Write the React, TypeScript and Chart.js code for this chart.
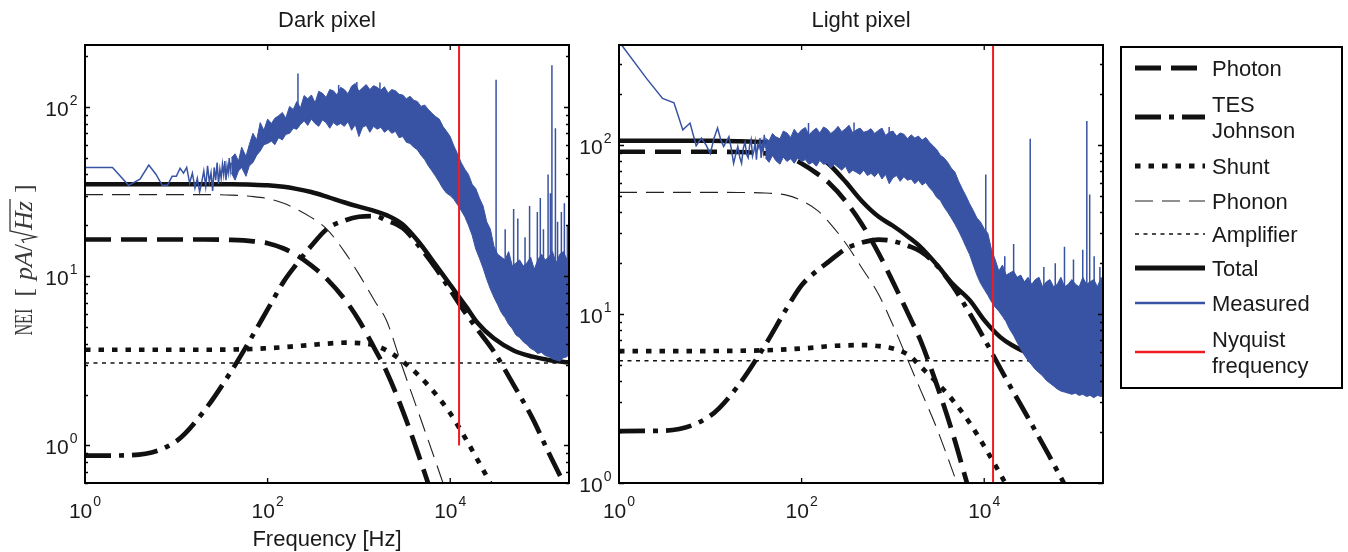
import React, { useEffect, useRef } from 'react';
import { Chart, registerables } from 'chart.js';

Chart.register(...registerables);

// ---------------- axes ----------------
const xMin = 1;
const xMax = 200000;
const xTickValues = [1, 100, 10000];
const xTickExponents = ['0', '2', '4'];
const yTickValues = [1, 10, 100];
const yTickExponents = ['0', '1', '2'];
const darkYRange = [0.6, 233];
const lightYRange = [1, 391];
const nyquistFreq = 12500;

// ---------------- model curves (shared frequency grid) ----------------
const modelFreq = [1, 3, 10, 20, 40, 70, 100, 150, 200, 300, 450, 700, 1000, 1500, 2000, 3000, 4500, 7000, 10000, 15000, 20000, 30000, 50000, 80000, 120000, 200000];

const darkTotal = [35, 35, 35, 35, 35, 34.8, 34.5, 33.8, 33, 31.5, 29.5, 27.3, 25.8, 24.3, 23, 20.3, 16, 11.6, 8.9, 6.6, 5.3, 4.3, 3.63, 3.35, 3.2, 3.1];
const darkPhoton = [16.5, 16.5, 16.5, 16.5, 16.4, 16.1, 15.7, 14.6, 13.5, 11.6, 9.6, 7.3, 5.5, 3.7, 2.75, 1.62, 0.88, 0.42, 0.2, null, null, null, null, null, null, null];
const darkPhonon = [30.4, 30.4, 30.4, 30.4, 30.2, 29.6, 28.8, 27, 25.2, 22.3, 18.9, 13.9, 10.3, 7.1, 5.5, 2.9, 1.56, 0.79, 0.45, null, null, null, null, null, null, null];
const darkJohnson = [0.87, 0.875, 1.06, 1.59, 2.75, 4.55, 6.37, 9.3, 11.5, 15.1, 19.1, 21.4, 22.5, 22.7, 21.4, 19.3, 15.2, 11.1, 8.3, 5.97, 4.83, 3.6, 2.26, 1.44, 0.905, 0.52];
const darkShunt = [3.68, 3.68, 3.68, 3.68, 3.69, 3.72, 3.76, 3.81, 3.86, 3.93, 4.0, 4.05, 4.03, 3.9, 3.65, 3.15, 2.6, 2.0, 1.55, 1.08, 0.82, 0.55, null, null, null, null];

const lightTotal = [106, 106, 106, 105.5, 104, 101, 96, 87, 77, 61, 47, 37.6, 33.3, 28.4, 25, 19.7, 15.1, 12.0, 9.2, 7.3, 6.56, 5.9, 5.55, 5.4, 5.35, 5.32];
const lightPhoton = [91.3, 91.3, 91.3, 91, 89.3, 85.8, 77.8, 67.4, 59.6, 46.9, 34.5, 22.8, 15.5, 9.8, 7.0, 3.86, 1.98, 0.86, null, null, null, null, null, null, null, null];
const lightPhonon = [52.5, 52.5, 52.5, 52.4, 52, 50.4, 46.9, 40.9, 34.9, 26.5, 19.0, 13.0, 8.6, 5.14, 3.57, 2.13, 1.18, 0.6, null, null, null, null, null, null, null, null];
const lightJohnson = [2.03, 2.04, 2.5, 3.74, 6.57, 11, 14.8, 18.2, 20.5, 24.2, 26.4, 27.6, 27.0, 25.2, 23.5, 19.5, 14.7, 10.0, 7.14, 4.77, 3.6, 2.45, 1.49, 0.93, null, null];
const lightShunt = [6.04, 6.04, 6.04, 6.06, 6.1, 6.18, 6.25, 6.36, 6.46, 6.52, 6.55, 6.46, 6.25, 5.7, 4.9, 3.95, 3.1, 2.25, 1.65, 1.13, 0.85, null, null, null, null, null];

const ampFreq = [1, 200000];
const darkAmplifier = [3.07, 3.07];
const lightAmplifier = [5.29, 5.29];

// ---------------- measured spectra ----------------
const lowFreq = [1, 2, 3, 4, 5, 6, 7, 8, 9, 10, 11, 12, 13, 14, 15, 16, 17, 18, 19, 20, 21, 22, 23, 24, 25, 26, 27, 28, 29, 30, 31, 32, 33, 34, 35, 36, 37, 38, 39, 40];
const darkLow = [44, 44, 34.5, 37.5, 45.5, 40, 34.5, 34.5, 39, 39, 43.5, 40.7, 44, 35.5, 40.7, 33.2, 38, 31.5, 36, 42, 34, 45, 36, 41, 32, 44, 37, 47, 35, 43, 38, 46, 40, 48, 37, 45, 41, 50, 42, 47];
const lightLow = [410, 248, 189, 178, 123, 135, 99, 110, 100, 89, 110, 126, 108, 98, 105, 112, 95, 78, 88, 98, 85, 78, 96, 104, 88, 84, 100, 108, 86, 92, 104, 82, 100, 96, 110, 84, 102, 92, 115, 96];

// dense noisy part: upper / lower envelopes on a common frequency list
const bandFreq = [40, 44, 48, 52, 58, 63, 69, 76, 83, 91,
  100, 110, 120, 132, 145, 158, 174, 191, 209, 229,
  251, 275, 302, 331, 363, 398, 437, 479, 525, 575,
  631, 692, 759, 832, 912, 1000, 1096, 1202, 1318, 1445,
  1585, 1738, 1905, 2089, 2291, 2512, 2754, 3020, 3311, 3631,
  3981, 4365, 4786, 5248, 5754, 6310, 6918, 7586, 8318, 9120,
  10000, 10965, 12023, 13183, 14454, 15849, 17378, 19055, 20893, 22909,
  25119, 27542, 30200, 33113, 36308, 39811, 43652, 47863, 52481, 57544,
  63096, 69183, 75858, 83176, 91201, 100000, 109648, 120226, 131826, 144544,
  158489, 173780, 190546, 200000];

const bandDarkHi = [50, 53, 48, 58, 51, 60, 70, 64, 81, 73,
  85, 80, 86, 89, 93, 86, 101, 97, 108, 99,
  117, 112, 118, 106, 124, 121, 114, 127, 125, 118,
  131, 127, 120, 133, 138, 124, 130, 136, 127, 134,
  131, 126, 132, 121, 127, 125, 119, 118, 112, 116,
  110, 108, 101, 103, 97, 92, 88, 85, 77, 72,
  67, 59, 53, 47, 43, 40, 35, 33, 29, 26,
  21, 19, 15, 13.5, 13, 12.5, 14, 11.5, 12, 12.5,
  11.5, 12, 13, 11, 12.5, 13.5, 12.5, 13, 14, 12,
  13.5, 14, 12.5, 13];
const bandDarkLo = [41, 37, 42, 44, 39, 45, 47, 52, 55, 60,
  61, 63, 60, 66, 64, 69, 70, 75, 74, 79,
  83, 78, 85, 80, 77, 84, 81, 75, 81, 78,
  80, 77, 82, 73, 79, 67, 76, 78, 71, 77,
  74, 76, 71, 74, 70, 72, 66, 67, 62, 61,
  58, 56, 52, 49, 45, 42, 39, 36, 33, 31,
  30, 28.5, 26.5, 24.5, 22.5, 20, 17.5, 14.5, 12.8, 11.2,
  9.6, 8.4, 7.5, 6.8, 6.1, 5.7, 5.2, 4.9, 4.5, 4.35,
  4.1, 3.95, 3.75, 3.65, 3.5, 3.55, 3.4, 3.35, 3.25, 3.2,
  3.15, 3.3, 3.35, 3.5];

const bandLightHi = [110, 106, 117, 112, 109, 121, 118, 111, 124, 116,
  123, 127, 115, 121, 126, 118, 128, 124, 117, 122,
  129, 120, 125, 131, 118, 123, 126, 119, 121, 125,
  117, 122, 126, 114, 119, 121, 113, 118, 116, 109,
  115, 110, 113, 107, 111, 104, 99, 94, 87, 84,
  79, 73, 69, 61, 55, 50, 45, 41, 37, 35,
  32, 30, 24, 21, 18, 19.5, 17, 17.5, 18, 16.5,
  17, 15.5, 16.5, 15, 16, 16.5, 14.5, 15.5, 16, 14.5,
  15, 16.5, 14.5, 15, 16, 15, 14.5, 16.5, 15, 15.5,
  16, 14.5, 16.5, 15];
const bandLightLo = [84, 79, 87, 81, 77, 85, 80, 83, 78, 84,
  80, 82, 77, 79, 75, 81, 77, 78, 73, 77,
  74, 71, 75, 68, 71, 69, 67, 71, 66, 68,
  65, 69, 63, 67, 59, 64, 66, 61, 65, 62,
  63, 59, 62, 58, 60, 56, 53, 49, 47, 43,
  40, 37, 34, 31, 28, 25, 22.5, 19.5, 17, 15.2,
  14, 12.9, 11.8, 11, 10.4, 9.7, 9, 8.1, 7.5, 6.8,
  6.2, 5.7, 5.3, 5.0, 4.7, 4.5, 4.3, 4.05, 3.9, 3.75,
  3.6, 3.5, 3.45, 3.4, 3.35, 3.4, 3.3, 3.35, 3.25, 3.3,
  3.2, 3.3, 3.25, 3.3];

const spikeDarkF = [215, 600, 950, 1700, 31800, 40000, 49500, 55000, 66000, 74000, 90000, 97000, 105000, 118000, 125000, 130000, 142000, 150000, 165000, 178000, 192000];
const spikeDarkPeak = [158, 135, 141, 140, 145, 19, 25, 22, 17, 26, 24, 29, 19, 40, 31, 177, 75, 21, 24, 27, 20];
const spikeDarkBase = [100, 95, 95, 95, 12, 10, 10, 10, 10, 10, 10, 10, 10, 10, 10, 10, 10, 10, 10, 10, 10];

const spikeLightF = [119, 375, 910, 10400, 16800, 21000, 31900, 45000, 60000, 75700, 95000, 120000, 133000, 143000, 160000, 185000];
const spikeLightPeak = [135, 136, 128, 67, 22, 26, 109, 19, 20, 25, 21, 24, 139, 51, 22, 19];
const spikeLightBase = [100, 100, 100, 25, 14, 12, 12, 10, 10, 10, 10, 10, 10, 10, 10, 10];

// ---------------- styles ----------------
const BLUE = 'rgb(57,83,164)';
const RED = 'rgb(237,28,36)';
const INK = '#1a1a1a';
const FONT = '"Liberation Sans", Arial, Helvetica, sans-serif';
const SERIF = '"Liberation Serif", "DejaVu Serif", "Times New Roman", serif';

const styles: any = {
  photon: { color: '#111', width: 4.7, dash: [26, 10] },
  johnson: { color: '#111', width: 4.7, dash: [26, 8, 5, 8] },
  shunt: { color: '#111', width: 4.7, dash: [5.5, 8] },
  phonon: { color: '#222', width: 1.1, dash: [18, 9] },
  amplifier: { color: '#111', width: 1.5, dash: [4, 4.5] },
  total: { color: '#111', width: 4.5, dash: [] },
  measured: { color: BLUE, width: 1.5, dash: [] },
  nyquist: { color: RED, width: 2, dash: [] },
};

const legendEntries = [
  { key: 'photon', lines: ['Photon'] },
  { key: 'johnson', lines: ['TES', 'Johnson'] },
  { key: 'shunt', lines: ['Shunt'] },
  { key: 'phonon', lines: ['Phonon'] },
  { key: 'amplifier', lines: ['Amplifier'] },
  { key: 'total', lines: ['Total'] },
  { key: 'measured', lines: ['Measured'] },
  { key: 'nyquist', lines: ['Nyquist', 'frequency'] },
];
const legendRowY = [68, 117, 166, 201, 234, 268, 303, 352];
const legendLineWidth: any = { photon: 5, johnson: 5, shunt: 5, phonon: 1.2, amplifier: 1.5, total: 5, measured: 2.5, nyquist: 2.5 };

// ---------------- helpers ----------------
const pts = (xs: number[], ys: (number | null)[]) => xs.map((x, i) => ({ x, y: ys[i] }));
const spikePts = (f: number[], base: number[], peak: number[]) => {
  const out: any[] = [];
  f.forEach((x, i) => {
    out.push({ x, y: base[i] }, { x, y: peak[i] }, { x, y: null });
  });
  return out;
};

function modelDs(key: string, xs: number[], ys: (number | null)[]) {
  const s = styles[key];
  return {
    label: key,
    data: pts(xs, ys),
    borderColor: s.color,
    borderWidth: s.width,
    borderDash: s.dash,
    pointRadius: 0,
    fill: false,
    cubicInterpolationMode: 'monotone',
    order: 2,
  };
}

function drawPower(ctx: CanvasRenderingContext2D, exp: string, x: number, baseY: number, align: string, expRaise: number) {
  ctx.font = `21px ${FONT}`;
  const wb = ctx.measureText('10').width;
  ctx.font = `14px ${FONT}`;
  const we = ctx.measureText(exp).width;
  const total = wb + we + 1;
  const left = align === 'right' ? x - total : x - total / 2;
  ctx.textAlign = 'left';
  ctx.textBaseline = 'alphabetic';
  ctx.font = `21px ${FONT}`;
  ctx.fillText('10', left, baseY);
  ctx.font = `14px ${FONT}`;
  ctx.fillText(exp, left + wb + 1, baseY - expRaise);
}

function drawYLabel(ctx: CanvasRenderingContext2D, baseX: number, centerY: number) {
  ctx.save();
  ctx.translate(baseX, centerY);
  ctx.rotate(-Math.PI / 2);
  ctx.fillStyle = '#3a3a3a';
  ctx.strokeStyle = '#3a3a3a';
  const size = 26;
  const up = `${size}px ${SERIF}`;
  const it = `italic ${size}px ${SERIF}`;
  const neiScale = 0.62;
  ctx.font = up;
  const wNEI = ctx.measureText('NEI').width * neiScale;
  const wLB = ctx.measureText('[').width;
  const wRB = ctx.measureText(']').width;
  const wSl = ctx.measureText('/').width;
  ctx.font = it;
  const wPA = ctx.measureText('pA').width;
  const wHz = ctx.measureText('Hz').width;
  const wRad = 14;
  const g1 = 12, g2 = 8, g3 = 8;
  const total = wNEI + g1 + wLB + g2 + wPA + wSl + wRad + wHz + g3 + wRB;
  let x = -total / 2;
  ctx.textBaseline = 'alphabetic';
  ctx.textAlign = 'left';
  ctx.save();
  ctx.translate(x, 0);
  ctx.scale(neiScale, 1);
  ctx.font = up;
  ctx.fillText('NEI', 0, 0);
  ctx.restore();
  x += wNEI + g1;
  ctx.font = up;
  ctx.fillText('[', x, 0);
  x += wLB + g2;
  ctx.font = it;
  ctx.fillText('pA', x, 0);
  x += wPA;
  ctx.font = up;
  ctx.fillText('/', x, 0);
  x += wSl;
  ctx.lineWidth = 1.3;
  ctx.beginPath();
  ctx.moveTo(x + 1, -8);
  ctx.lineTo(x + 4, -10);
  ctx.lineTo(x + 7, 4);
  ctx.lineTo(x + 13, -22);
  ctx.lineTo(x + wRad + wHz + 2, -22);
  ctx.stroke();
  x += wRad;
  ctx.font = it;
  ctx.fillText('Hz', x, 0);
  x += wHz + g3;
  ctx.font = up;
  ctx.fillText(']', x, 0);
  ctx.restore();
}

function drawLegend(ctx: CanvasRenderingContext2D) {
  ctx.save();
  ctx.fillStyle = '#fff';
  ctx.fillRect(1121, 47, 221, 341);
  ctx.strokeStyle = '#000';
  ctx.lineWidth = 2;
  ctx.setLineDash([]);
  ctx.strokeRect(1121, 47, 221, 341);
  legendEntries.forEach((e, i) => {
    const y = legendRowY[i];
    const s = styles[e.key];
    ctx.beginPath();
    ctx.strokeStyle = s.color;
    ctx.lineWidth = legendLineWidth[e.key];
    ctx.setLineDash(s.dash);
    ctx.lineCap = 'butt';
    ctx.moveTo(1135, y);
    ctx.lineTo(1205, y);
    ctx.stroke();
    ctx.setLineDash([]);
    ctx.fillStyle = INK;
    ctx.font = `22px ${FONT}`;
    ctx.textAlign = 'left';
    ctx.textBaseline = 'alphabetic';
    const n = e.lines.length;
    e.lines.forEach((t, j) => {
      const cy = y + (j - (n - 1) / 2) * 26;
      ctx.fillText(t, 1212, cy + 8);
    });
  });
  ctx.restore();
}

function axesPlugin(opts: any) {
  return {
    id: 'matlabAxes',
    afterDraw(chart: any) {
      const { ctx, chartArea: a } = chart;
      const xs = chart.scales.x;
      const ys = chart.scales.y;
      ctx.save();
      ctx.setLineDash([]);
      ctx.strokeStyle = '#000';
      ctx.lineWidth = 1.3;
      ctx.beginPath();
      xTickValues.forEach((v) => {
        const px = xs.getPixelForValue(v);
        ctx.moveTo(px, a.bottom);
        ctx.lineTo(px, a.bottom - 5);
        ctx.moveTo(px, a.top);
        ctx.lineTo(px, a.top + 5);
      });
      const ymin = ys.min;
      const ymax = ys.max;
      for (let d = Math.floor(Math.log10(ymin)); d <= Math.ceil(Math.log10(ymax)); d++) {
        for (let m = 1; m <= 9; m++) {
          const v = m * Math.pow(10, d);
          if (v < ymin * 0.999 || v > ymax * 1.001) continue;
          const py = Math.round(ys.getPixelForValue(v)) + 0.5;
          const len = m === 1 ? 5 : 3;
          ctx.moveTo(a.left, py);
          ctx.lineTo(a.left + len, py);
          ctx.moveTo(a.right, py);
          ctx.lineTo(a.right - len, py);
        }
      }
      ctx.stroke();
      ctx.lineWidth = 2;
      ctx.strokeRect(a.left, a.top, a.right - a.left, a.bottom - a.top);

      ctx.fillStyle = INK;
      xTickValues.forEach((v, i) => drawPower(ctx, xTickExponents[i], xs.getPixelForValue(v), a.bottom + 35, 'center', 12));
      yTickValues.forEach((v, i) => {
        if (v >= ymin * 0.999 && v <= ymax * 1.001) drawPower(ctx, yTickExponents[i], a.left - 7.5, ys.getPixelForValue(v) + 9, 'right', 11);
      });

      const cx = (a.left + a.right) / 2;
      ctx.font = `22px ${FONT}`;
      ctx.textAlign = 'center';
      ctx.textBaseline = 'alphabetic';
      ctx.fillText(opts.title, cx, 27);
      if (opts.xLabel) ctx.fillText(opts.xLabel, cx, 546);
      if (opts.yLabel) drawYLabel(ctx, 32, 260);
      if (opts.legend) drawLegend(ctx);
      ctx.restore();
    },
  };
}

function panelConfig(p: any) {
  const m = styles.measured;
  return {
    type: 'line',
    data: {
      datasets: [
        {
          label: 'nyquist',
          data: pts([nyquistFreq, nyquistFreq], [p.nyqBottom, p.yRange[1]]),
          borderColor: RED,
          borderWidth: styles.nyquist.width,
          pointRadius: 0,
          fill: false,
          order: 0,
        },
        {
          label: 'spikes',
          data: spikePts(p.spikeF, p.spikeBase, p.spikePeak),
          borderColor: m.color,
          borderWidth: 1.5,
          pointRadius: 0,
          fill: false,
          spanGaps: false,
          order: 1,
        },
        {
          label: 'measured',
          data: pts(lowFreq, p.low),
          borderColor: m.color,
          borderWidth: m.width,
          pointRadius: 0,
          fill: false,
          order: 1,
        },
        {
          label: 'bandHi',
          data: pts(bandFreq, p.bandHi),
          borderColor: m.color,
          borderWidth: 1,
          backgroundColor: m.color,
          pointRadius: 0,
          fill: '+1',
          order: 1,
        },
        {
          label: 'bandLo',
          data: pts(bandFreq, p.bandLo),
          borderColor: m.color,
          borderWidth: 1,
          pointRadius: 0,
          fill: false,
          order: 1,
        },
        modelDs('total', modelFreq, p.total),
        modelDs('photon', modelFreq, p.photon),
        modelDs('johnson', modelFreq, p.johnson),
        modelDs('shunt', modelFreq, p.shunt),
        modelDs('phonon', modelFreq, p.phonon),
        modelDs('amplifier', ampFreq, p.amp),
      ],
    },
    options: {
      responsive: false,
      animation: false,
      events: [],
      layout: { padding: p.padding },
      plugins: {
        legend: { display: false },
        title: { display: false },
        tooltip: { enabled: false },
      },
      scales: {
        x: { type: 'logarithmic', min: xMin, max: xMax, display: false },
        y: { type: 'logarithmic', min: p.yRange[0], max: p.yRange[1], display: false },
      },
    },
    plugins: [axesPlugin(p.axes)],
  };
}

export default function App() {
  const darkRef = useRef<HTMLCanvasElement | null>(null);
  const lightRef = useRef<HTMLCanvasElement | null>(null);

  useEffect(() => {
    const dark = new Chart(darkRef.current as any, panelConfig({
      yRange: darkYRange,
      nyqBottom: 1,
      low: darkLow,
      bandHi: bandDarkHi, bandLo: bandDarkLo,
      spikeF: spikeDarkF, spikePeak: spikeDarkPeak, spikeBase: spikeDarkBase,
      total: darkTotal, photon: darkPhoton, johnson: darkJohnson, shunt: darkShunt, phonon: darkPhonon, amp: darkAmplifier,
      padding: { left: 85, right: 1348 - 569, top: 45, bottom: 552 - 483 },
      axes: { title: 'Dark pixel', xLabel: 'Frequency [Hz]', yLabel: true, legend: false },
    }) as any);
    const light = new Chart(lightRef.current as any, panelConfig({
      yRange: lightYRange,
      nyqBottom: 1,
      low: lightLow,
      bandHi: bandLightHi, bandLo: bandLightLo,
      spikeF: spikeLightF, spikePeak: spikeLightPeak, spikeBase: spikeLightBase,
      total: lightTotal, photon: lightPhoton, johnson: lightJohnson, shunt: lightShunt, phonon: lightPhonon, amp: lightAmplifier,
      padding: { left: 619, right: 1348 - 1103, top: 45, bottom: 552 - 483 },
      axes: { title: 'Light pixel', xLabel: '', yLabel: false, legend: true },
    }) as any);
    return () => {
      dark.destroy();
      light.destroy();
    };
  }, []);

  const cs: any = { position: 'absolute', left: 0, top: 0, width: 1348, height: 552 };
  return (
    <div style={{ position: 'absolute', left: 0, top: 0, width: 1348, height: 552, background: '#fff', overflow: 'hidden' }}>
      <canvas ref={darkRef} width={1348} height={552} style={cs} />
      <canvas ref={lightRef} width={1348} height={552} style={cs} />
    </div>
  );
}
